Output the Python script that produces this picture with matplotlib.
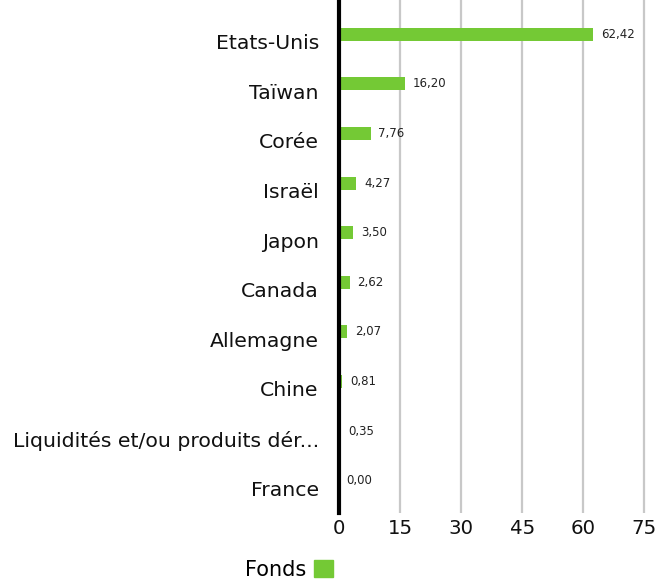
import numpy as np
import matplotlib.pyplot as plt
from matplotlib.patches import Patch

# data
countries = ['Etats-Unis', 'Taïwan', 'Corée', 'Israël', 'Japon', 'Canada',
             'Allemagne', 'Chine', 'Liquidités et/ou produits dér...', 'France']
fonds = [62.42, 16.20, 7.76, 4.27, 3.50, 2.62, 2.07, 0.81, 0.35, 0.00]
xticks = [0, 15, 30, 45, 60, 75]

green = '#74c935'
plt.rcParams['font.family'] = ['DejaVu Sans']

fig = plt.figure(figsize=(6.58, 5.81), dpi=100)
ax = fig.add_axes([339 / 658, 1 - 513 / 581, 309.5 / 658, 513 / 581])

y = np.arange(len(countries))
ax.barh(y - 0.15, fonds, height=0.26, color=green, zorder=3)
for yi, v in zip(y, fonds):
    ax.text(v + 1.9, yi - 0.15, f'{v:.2f}'.replace('.', ','), va='center',
            ha='left', fontsize=8.5, color='#222222', zorder=4)

ax.set_xlim(0, 76)
ax.set_ylim(9.5, -0.84)
ax.set_yticks(y)
ax.set_yticklabels(countries, fontsize=14.7)
ax.set_xticks(xticks)
ax.set_xticklabels([str(t) for t in xticks], fontsize=14.2)
ax.tick_params(axis='both', length=0, colors='#111111')
ax.tick_params(axis='x', pad=4)
ax.tick_params(axis='y', pad=14.5)

ax.grid(axis='x', color='#c8c8c8', linewidth=1.6, zorder=0)
for s in ['top', 'right', 'bottom']:
    ax.spines[s].set_visible(False)
ax.spines['left'].set_linewidth(3)
ax.spines['left'].set_color('black')
ax.spines['left'].set_zorder(5)

fig.legend(handles=[Patch(color=green, label='Fonds')], loc='lower left',
           bbox_to_anchor=(226 / 658, -0.03), frameon=False, markerfirst=False,
           fontsize=15, handlelength=0.9, handleheight=0.9, handletextpad=0.4)

fig.savefig('out.png', dpi=100)
